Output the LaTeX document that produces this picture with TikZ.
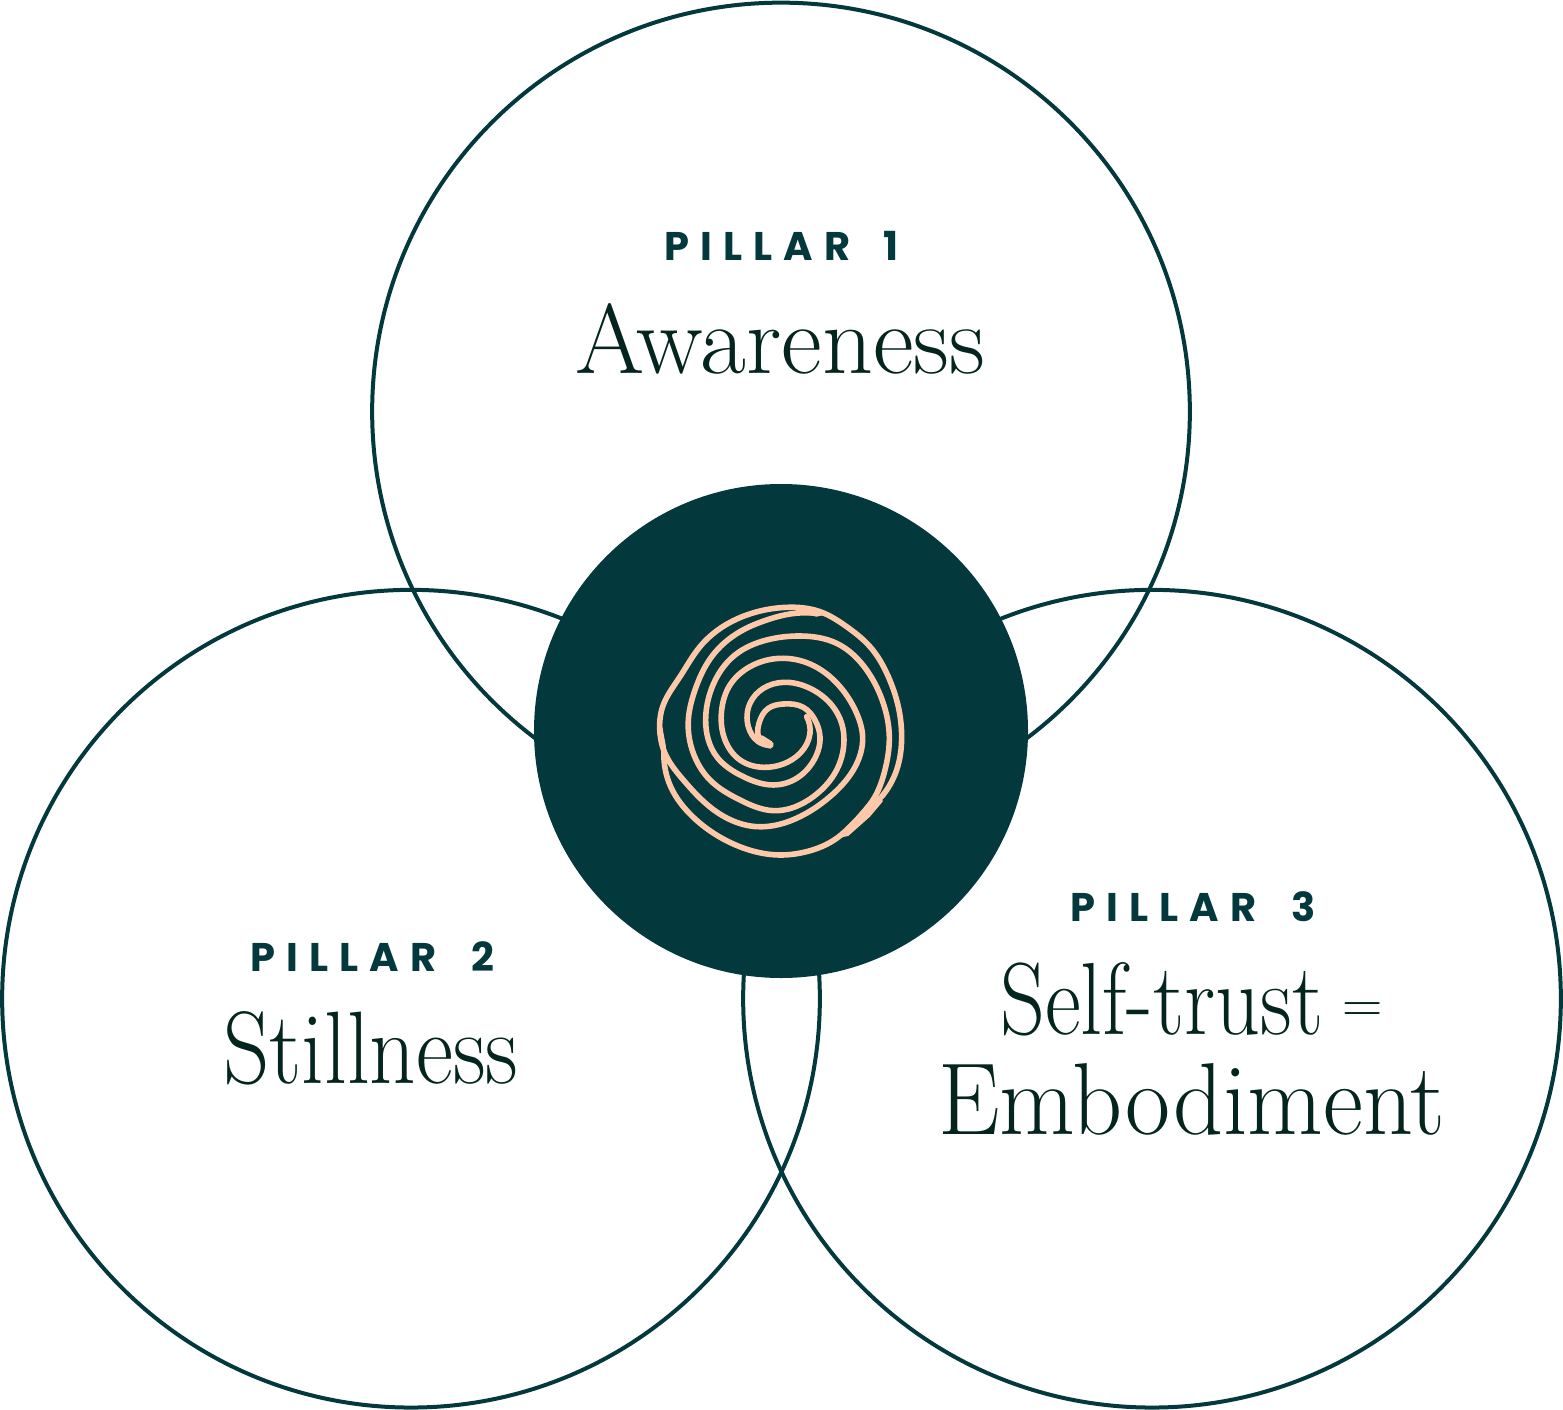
\documentclass[tikz,border=0pt]{standalone}
\usepackage{fontspec}
\usepackage{graphicx}
\usetikzlibrary{hobby}
\newfontfamily\pillarfont[LetterSpace=28]{Poppins}
\definecolor{deepteal}{HTML}{03383C}
\definecolor{inkgreen}{HTML}{04241E}
\definecolor{peach}{HTML}{FFC8A8}
\tikzset{
  ring/.style={circle,draw=deepteal,line width=4pt,inner sep=0pt,minimum size=817.7pt},
  hub/.style={circle,fill=deepteal,inner sep=0pt,minimum size=494pt},
  pillarlabel/.style={anchor=south west,inner sep=0pt,text=deepteal,font=\pillarfont\bfseries\fontsize{40}{40}\selectfont},
  serifname/.style={anchor=south west,inner sep=0pt,text=inkgreen},
  coil/.style={draw=peach,line width=5.6pt,line cap=round,line join=round,use Hobby shortcut}
}
\newcommand{\fitname}[3]{\resizebox{#1pt}{#2pt}{\fontsize{100}{100}\selectfont #3}}
\begin{document}
\begin{tikzpicture}[x=1pt,y=-1pt]
\useasboundingbox (0,0) rectangle (1563,1410);
\node[ring] (top) at (781,411.5) {};
\node[ring] (left) at (411,998.7) {};
\node[ring] (right) at (1152,998.7) {};
\node[hub] (centre) at (781,731) {};
\begin{scope}[shift={(640,590)},x=0.3333pt,y=-0.3333pt]
\draw[coil]
 (390,466) .. (360,450) .. (357,400) .. (385,355) .. (430,342) .. (490,352) .. (525,390) .. (540,440) .. (522,510) .. (470,565) .. (400,585) .. (310,560) .. (230,500) .. (197,390) .. (215,295) .. (285,195) .. (380,150) .. (480,138) .. (590,160) .. (680,240) .. (730,340) .. (748,440) .. (735,540) .. (705,620) .. (640,700) .. (590,745) .. (500,785) .. (430,795) .. (280,762) .. (160,682) .. (92,590) .. (72,483);
\draw[coil]
 (390,466) .. (355,455) .. (325,410) .. (330,340) .. (370,295) .. (430,277) .. (510,295) .. (575,345) .. (605,400) .. (612,450) .. (590,540) .. (520,620) .. (400,662) .. (300,630) .. (210,570) .. (160,490) .. (145,390) .. (165,300) .. (215,200) .. (300,125) .. (380,90) .. (450,72) .. (530,70);
\draw[coil]
 (500,380) .. (510,430) .. (480,490) .. (430,522) .. (370,532) .. (300,510) .. (255,450) .. (245,360) .. (270,285) .. (330,230) .. (420,205) .. (510,222) .. (600,290) .. (650,370) .. (668,440) .. (640,540) .. (570,620) .. (480,680) .. (350,710) .. (215,655) .. (130,570) .. (72,483) .. (60,430) .. (68,350) .. (120,260) .. (180,170) .. (320,75) .. (440,52) .. (540,65) .. (620,110) .. (690,170) .. (745,260) .. (775,350) .. (785,440) .. (770,540) .. (725,620);
\draw[draw=peach,line width=8pt,line cap=round] (362,447) -- (389,464);
\fill[peach] (728,615) -- (695,625) -- (610,725) -- (590,745) -- (625,738) -- (690,680) -- (728,635) -- cycle;
\fill[peach] (52,430) -- (62,385) -- (78,470) -- (72,490) -- cycle;
\fill[peach] (445,50) -- (520,55) -- (565,72) -- (530,80) -- (490,72) -- cycle;
\end{scope}
\node[pillarlabel] (p1) at (664,261) {PILLAR\hspace{13pt} 1};
\node[pillarlabel] (p2) at (250,972) {PILLAR\hspace{15pt} 2};
\node[pillarlabel] (p3) at (1070,922) {PILLAR\hspace{15pt} 3};
\node[serifname] (n1) at (575,374) {\fitname{410}{70}{Awareness}};
\node[serifname] (n2) at (223,1085) {\fitname{295}{72}{Stillness}};
\node[serifname] (n3) at (1000,1036) {\fitname{323}{72}{Self-trust}};
\node[serifname] (n3b) at (1342,1023) {\fontsize{56}{56}\selectfont =};
\node[serifname] (n4) at (938,1136) {\fitname{507}{71}{Embodiment}};
\end{tikzpicture}
\end{document}
